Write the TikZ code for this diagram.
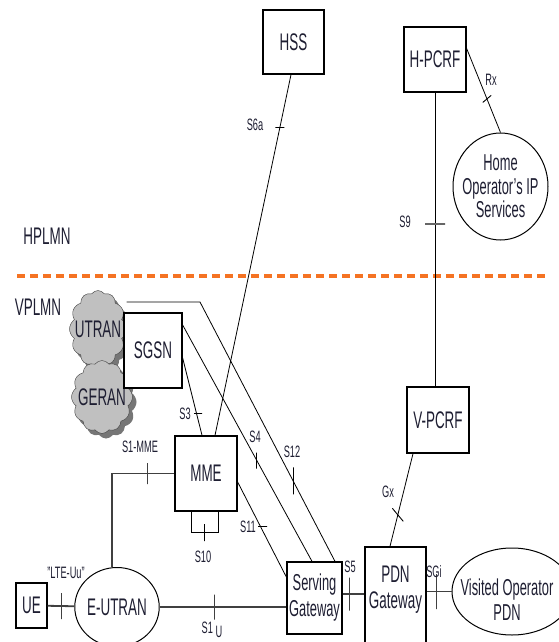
\documentclass[tikz,border=0pt]{standalone}
\usepackage{fontspec}
\setmainfont{Liberation Sans}[FakeStretch=0.56]
\usetikzlibrary{shapes.symbols,shapes.geometric,shadows}
\definecolor{plmnorange}{RGB}{245,115,35}
\definecolor{cloudgray}{RGB}{192,192,192}
\definecolor{cloudshade}{RGB}{118,118,118}
\definecolor{inkblue}{RGB}{30,30,50}
\newcommand\boxfont{\fontsize{24}{27}\selectfont}
\newcommand\lblfont{\fontsize{16.5}{18}\selectfont}

\begin{document}
\begin{tikzpicture}[%
    x=1pt, y=-1pt,               % work in pixels of the page, y going down
    every node/.style={text=inkblue},
    ]
% -------------------------------------------------
% Box, cloud and line styles
\tikzset{
  base/.style={draw, line width=1.3pt, align=center, inner sep=0pt, font=\boxfont},
  elem/.style={base, rectangle},
  endp/.style={base, ellipse, line width=1pt},
  radio/.style={draw=black!75, cloud, cloud puffs=12, cloud puff arc=110,
    aspect=0.75, fill=cloudgray, inner sep=0pt,
    drop shadow={shadow xshift=4pt, shadow yshift=-5pt, fill=cloudshade, opacity=1}},
  % connectors: thin signalling links and thick user plane trunks
  link/.style={draw, line width=0.8pt},
  trunk/.style={draw, line width=1.8pt, black!75},
  % short reference point marks on the connectors
  tickh/.style={draw, rectangle, inner sep=0pt, minimum height=0pt, minimum width=#1, line width=0.9pt},
  tickv/.style={draw, rectangle, inner sep=0pt, minimum width=0pt, minimum height=#1, line width=0.9pt},
  lbl/.style={font=\lblfont, inner sep=0pt},
  plmn/.style={font=\boxfont, inner sep=0pt},
  border/.style={draw=plmnorange, line width=3.5pt, dash pattern=on 8pt off 5pt}
}
\useasboundingbox (0,0) rectangle (558,642);
% -------------------------------------------------
% Home network
\node [elem, minimum width=61, minimum height=64] (hss) at (293.5,42) {HSS};
\node [elem, minimum width=62, minimum height=65] (hpcrf) at (435,59.5) {H-PCRF};
\node [endp, minimum width=95, minimum height=107,
  label={[font=\fontsize{23}{23.5}\selectfont, align=center]center:{Home\\Operator's IP\\Services}}]
  (home) at (500.5,186.5) {};
\node [plmn] (hplmn) at (47,236) {HPLMN};
% the border between the two networks
\draw [border] (17,276) -- (545,276);
\node [plmn] (vplmn) at (38,307) {VPLMN};
% -------------------------------------------------
% Visited network
\node [radio, minimum width=57, minimum height=77,
  label={[font=\boxfont]center:UTRAN}] (utran) at (98,329) {};
\node [radio, minimum width=61, minimum height=73,
  label={[font=\boxfont]center:GERAN}] (geran) at (102,397) {};
\node [elem, fill=white, minimum width=58, minimum height=75] (sgsn) at (153,350.5) {SGSN};
\node [elem, minimum width=62, minimum height=66] (vpcrf) at (438,420) {V-PCRF};
\node [elem, minimum width=62, minimum height=75] (mme) at (206,473.5) {MME};
\node [elem, minimum width=55, minimum height=72, font=\fontsize{23}{26}\selectfont]
  (sgw) at (314.5,598) {Serving\\Gateway};
\node [elem, minimum width=61, minimum height=100] (pdn) at (395.5,597) {};
\node [plmn, align=center, font=\fontsize{24}{26}\selectfont] (pdnlbl) at (395.5,590) {PDN\\Gateway};
\node [endp, minimum width=120, minimum height=87] (vop) at (512,591.5) {};
\node [plmn, align=center, font=\fontsize{23}{25}\selectfont] (voplbl) at (507,600) {Visited Operator\\PDN};
\node [endp, minimum width=80, minimum height=79] (eutran) at (117,607) {E-UTRAN};
\node [elem, minimum width=31, minimum height=45] (ue) at (31.5,605.5) {UE};
\coordinate (bend12) at (200,302);
% -------------------------------------------------
% Signalling links, each with its reference point mark
\draw [link] ([xshift=-2.5]hss.south) -- node [tickh=9, pos=.146] (t6a) {} ([xshift=9]mme.north);
\draw [link] (hpcrf.south) -- node [tickh=20, pos=.447, line width=2pt, draw=black!60] (t9) {}
  (hpcrf.south |- vpcrf.north);
\draw [link] ([yshift=11]hpcrf.east) -- node [tickh=11, rotate=40, pos=.6] (trx) {} (home.north);
\draw [link] ([yshift=-7.5]sgsn.east) -- node [tickh=8, pos=.72, xshift=1.5] (t3) {} ([xshift=-4]mme.north);
\draw [link] ([yshift=25.5]sgsn.east) -- node [tickv=16, pos=.574] (t4) {} ([xshift=-2.5]sgw.north);
\draw [link] (utran.east |- bend12) -- (bend12) -- node [tickv=27, pos=.69] (t12) {} ([xshift=20.5]sgw.north);
\draw [link] ([yshift=-8.5]mme.east) -- node [tickh=9, pos=.47, xshift=2] (t11) {} ([yshift=21]sgw.west);
\draw [link] ([xshift=-15]mme.south) -- ++(0,21) -| node [tickv=17, pos=.24] (t10) {} ([xshift=12]mme.south);
\draw [link] ([xshift=-25]vpcrf.south) -- node [tickh=17, rotate=-50, pos=.66] (tgx) {} ([xshift=-5.5]pdn.north);
% -------------------------------------------------
% User plane and access trunks
\draw [trunk] (mme.west) -| node [tickv=21, pos=.214] (t1mme) {} ([xshift=-5]eutran.north);
\draw [trunk] (ue) -- node [tickv=26, pos=.53] (tuu) {} (eutran);
\draw [trunk] (eutran.east) -- node [tickv=25, pos=.43] (t1u) {} (eutran.east -| sgw.west);
\draw [trunk] ([yshift=4]sgw.east) -- node [tickv=33, pos=.3] (t5) {} ([yshift=4]sgw.east -| pdn.west);
\draw [trunk] (pdn.east |- vop.west) -- node [tickv=35, pos=.375] (tsgi) {} (vop.west);
% -------------------------------------------------
% Reference point names
\node [lbl] (l6a) at (255,125) {S6a};
\node [lbl] (l9) at (405,222) {S9};
\node [lbl] (lrx) at (491,80) {Rx};
\node [lbl] (l3) at (185,414) {S3};
\node [lbl] (l4) at (255,437) {S4};
\node [lbl] (l12) at (292,452) {S12};
\node [lbl] (l11) at (248,527) {S11};
\node [lbl] (l10) at (203,557) {S10};
\node [lbl] (l1mme) at (140,447) {S1-MME};
\node [lbl] (luu) at (66,573) {"LTE-Uu"};
\node [lbl] (l1u) at (212,630) {S1\,\raisebox{-.5ex}{U}};
\node [lbl] (l5) at (350,567) {S5};
\node [lbl] (lsgi) at (434,572) {SGi};
\node [lbl] (lgx) at (388,492) {Gx};
\end{tikzpicture}
\end{document}
